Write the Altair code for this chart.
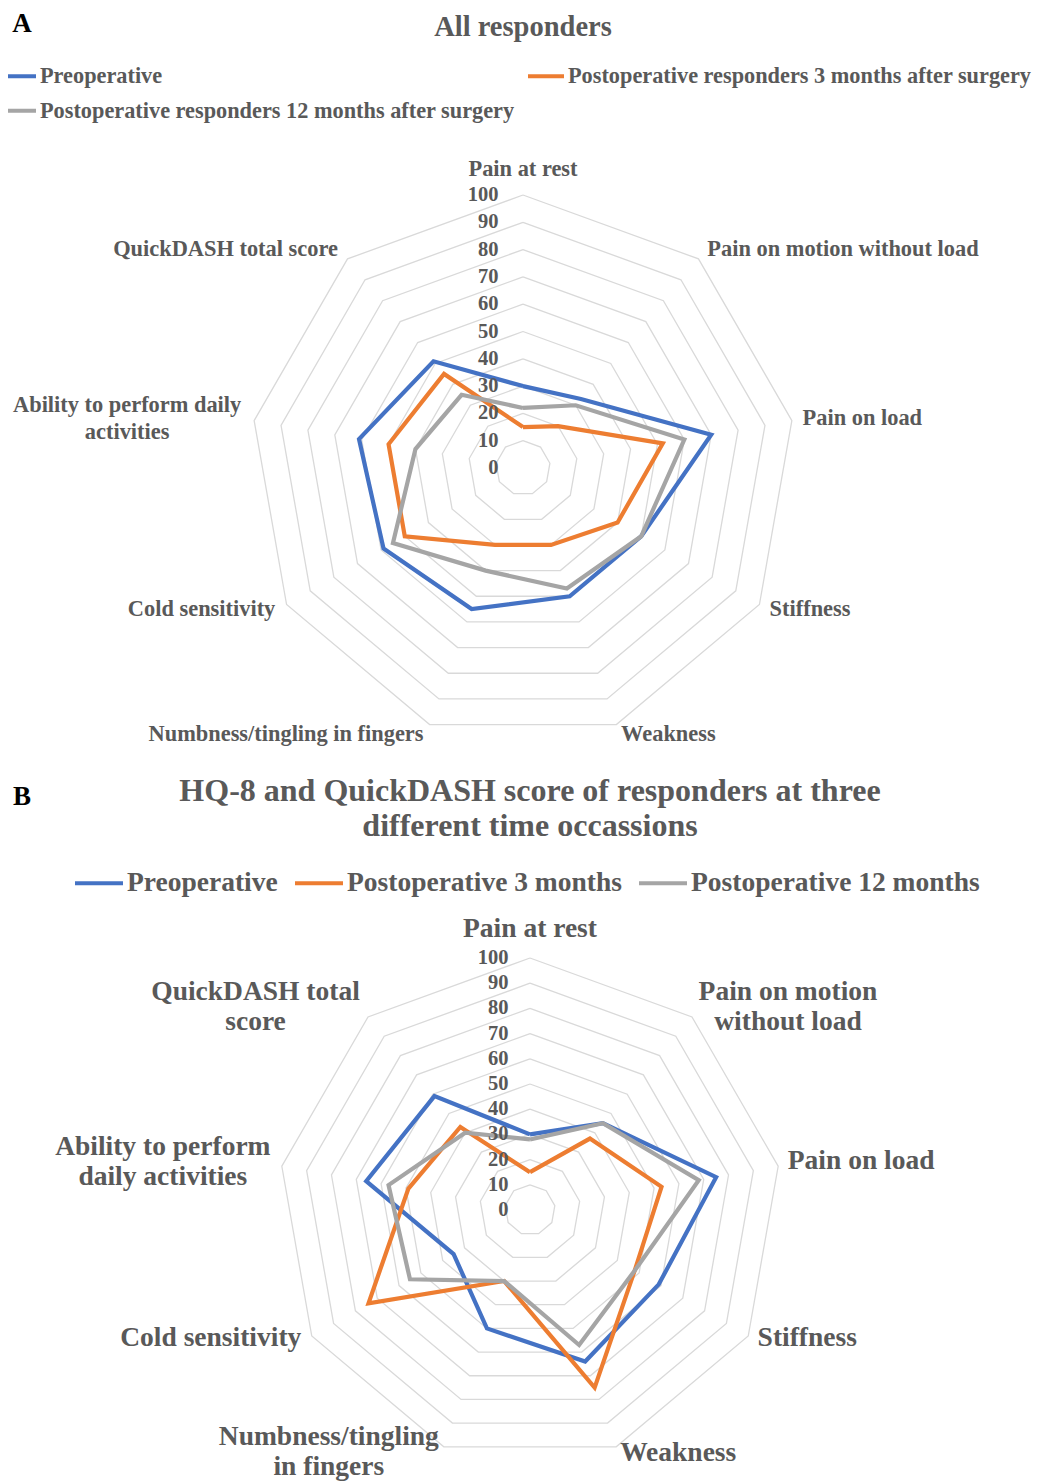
import altair as alt
import pandas as pd

# ---------------- data ----------------
categories_A = ["Pain at rest", "Pain on motion without load", "Pain on load", "Stiffness",
                "Weakness", "Numbness/tingling in fingers", "Cold sensitivity",
                "Ability to perform daily\nactivities", "QuickDASH total score"]
categories_B = ["Pain at rest", "Pain on motion\nwithout load", "Pain on load", "Stiffness",
                "Weakness", "Numbness/tingling\nin fingers", "Cold sensitivity",
                "Ability to perform\ndaily activities", "QuickDASH total\nscore"]

series_A = ["Preoperative", "Postoperative responders 3 months after surgery",
            "Postoperative responders 12 months after surgery"]
series_B = ["Preoperative", "Postoperative 3 months", "Postoperative 12 months"]

pre_A = [30, 33, 70, 50, 50, 55, 59, 61, 51]
post3_A = [15, 20, 52, 40, 30, 30, 50, 50, 45]
post12_A = [22, 30, 60, 50, 47, 40, 55, 40, 35]

pre_B = [30, 45, 75, 59, 64, 50, 35, 66, 59]
post3_B = [15, 37, 53, 48, 75, 30, 74, 49, 43]
post12_B = [28, 45, 68, 48, 57, 30, 55, 57, 40]

ticks = [0, 10, 20, 30, 40, 50, 60, 70, 80, 90, 100]

title_A = "All responders"
title_B = "HQ-8 and QuickDASH score of responders at three\ndifferent time occassions"

# ---------------- styling / layout ----------------
colors = ["#4472C4", "#ED7D31", "#A5A5A5"]
FONT = "Liberation Serif"
TXT = "#595959"
W, H = 1027, 1474
N = len(categories_A)

# label offsets (px) from the outer ring vertex (first text line for wrapped labels)
label_dx_A = [0, 144.5, 70.5, 50.6, 52, -143.6, -85, -127, -122]
label_dy_A = [-26, -10, -2.5, 4.5, 9.4, 9.4, 4.5, -15.5, -10]
label_dx_B = [0, 96, 83, 59, 62, -115, -101, -119, -112.5]
label_dy_B = [-29, -25, -5, 2, 6, -10, 2, -19, -25]


def long_df(names, arrays):
    rows = []
    for s, vals in zip(names, arrays):
        for k in range(N + 1):
            rows.append({"series": s, "k": k, "value": vals[k % N]})
    return pd.DataFrame(rows)


def panel(names, arrays, cats, ldx, ldy, cx, cy, ppu, legend, tick_dx, lab_size, lab_lh):
    xs = alt.Scale(domain=[-cx / ppu, (W - cx) / ppu], nice=False, zero=False)
    ys = alt.Scale(domain=[-(H - cy) / ppu, cy / ppu], nice=False, zero=False)
    theta = "(datum.k * 2 * PI / 9)"

    ring_df = pd.DataFrame([{"level": t, "k": k} for t in ticks[1:] for k in range(N + 1)])
    rings = alt.Chart(ring_df).transform_calculate(
        gx=f"datum.level * sin({theta})", gy=f"datum.level * cos({theta})"
    ).mark_line(stroke="#D9D9D9", strokeWidth=1.3).encode(
        x=alt.X("gx:Q", scale=xs, axis=None),
        y=alt.Y("gy:Q", scale=ys, axis=None),
        detail="level:N",
        order="k:Q",
    )

    lines = alt.Chart(long_df(names, arrays)).transform_calculate(
        px=f"datum.value * sin({theta})", py=f"datum.value * cos({theta})"
    ).mark_line(strokeWidth=4.2).encode(
        x=alt.X("px:Q", scale=xs, axis=None),
        y=alt.Y("py:Q", scale=ys, axis=None),
        color=alt.Color("series:N", scale=alt.Scale(domain=names, range=colors),
                        sort=names, legend=legend),
        order="k:Q",
    )

    tick_df = pd.DataFrame({"level": ticks, "text": [str(t) for t in ticks]})
    tick_text = alt.Chart(tick_df).transform_calculate(zx="0").mark_text(
        align="right", baseline="middle", dx=tick_dx, font=FONT, fontSize=20.5,
        fontWeight="bold", color=TXT
    ).encode(
        x=alt.X("zx:Q", scale=xs, axis=None),
        y=alt.Y("level:Q", scale=ys, axis=None),
        text="text:N",
    )

    lab_df = pd.DataFrame({"k": list(range(N)), "label": cats, "ox": ldx, "oy": ldy})
    labels = alt.Chart(lab_df).transform_calculate(
        lx=f"100 * sin({theta}) + datum.ox / {ppu}",
        ly=f"100 * cos({theta}) - datum.oy / {ppu}",
    ).mark_text(
        align="center", baseline="middle", lineBreak="\n", lineHeight=lab_lh,
        font=FONT, fontSize=lab_size, fontWeight="bold", color=TXT
    ).encode(
        x=alt.X("lx:Q", scale=xs, axis=None),
        y=alt.Y("ly:Q", scale=ys, axis=None),
        text="label:N",
    )
    return alt.layer(rings, lines, tick_text, labels)


legend_A = alt.Legend(
    orient="none", legendX=-10, legendY=48, columns=2, direction="horizontal", title=None,
    symbolType="stroke", symbolSize=1296, symbolStrokeWidth=4, labelFont=FONT,
    labelFontWeight="bold", labelFontSize=22.3, labelColor=TXT, labelLimit=1000,
    labelOffset=2, columnPadding=5, rowPadding=2.7, padding=0,
)
legend_B = alt.Legend(
    orient="none", legendX=65, legendY=849, columns=3, direction="horizontal", title=None,
    symbolType="stroke", symbolSize=2304, symbolStrokeWidth=4, labelFont=FONT,
    labelFontWeight="bold", labelFontSize=27.5, labelColor=TXT, labelLimit=1000,
    labelOffset=2, columnPadding=9, padding=0,
)

panel_A = panel(series_A, [pre_A, post3_A, post12_A], categories_A, label_dx_A, label_dy_A,
                515, 460, 2.73, legend_A, -24.5, 22.4, 27)
panel_B = panel(series_B, [pre_B, post3_B, post12_B], categories_B, label_dx_B, label_dy_B,
                522, 1202, 2.52, legend_B, -21.5, 27.5, 30)


def text_chart(text, x, y, size, color, lh=None):
    kw = dict(align="center", baseline="middle", font=FONT, fontSize=size,
              fontWeight="bold", color=color, lineBreak="\n")
    if lh:
        kw["lineHeight"] = lh
    return alt.Chart(pd.DataFrame({"t": [text]})).mark_text(**kw).encode(
        x=alt.value(x), y=alt.value(y), text="t:N")


chart = alt.layer(
    panel_A,
    panel_B,
    text_chart(title_A, 515, 19, 28.5, TXT),
    text_chart(title_B, 522, 783, 32, TXT, 35),
    text_chart("A", 14, 16, 27, "#000000"),
    text_chart("B", 14, 789, 27, "#000000"),
).resolve_scale(
    x="independent", y="independent", color="independent"
).properties(
    width=W, height=H, padding=0, autosize=alt.AutoSizeParams(type="none")
).configure_view(stroke=None)

chart.save("out.html", embed_options={"renderer": "svg", "actions": False})
